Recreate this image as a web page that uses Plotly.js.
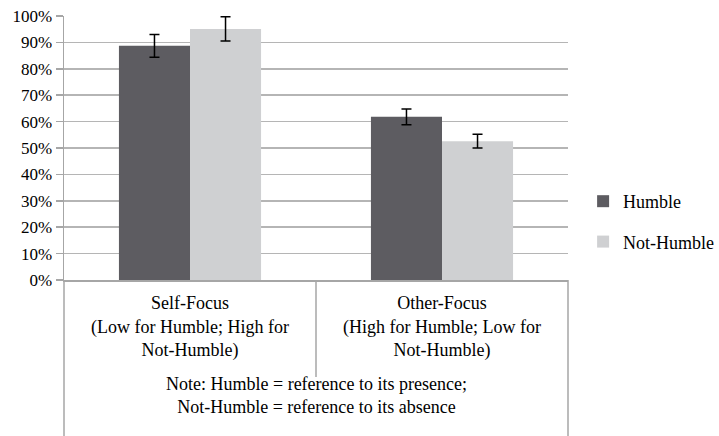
<!DOCTYPE html>
<html>
<head>
<meta charset="utf-8">
<script src="https://cdn.plot.ly/plotly-3.0.1.min.js"></script>
<style>html,body{margin:0;padding:0;background:#fff;}#chart{width:719px;height:436px;}</style>
</head>
<body>
<div id="chart"></div>
<script>
var categories = ["Self-Focus<br>(Low for Humble; High for<br>Not-Humble)", "Other-Focus<br>(High for Humble; Low for<br>Not-Humble)"];
var humbleValues = [88.7, 61.8];
var humbleErrors = [4.3, 3.0];
var notHumbleValues = [95.1, 52.6];
var notHumbleErrors = [4.6, 2.6];
var yTickValues = [0, 10, 20, 30, 40, 50, 60, 70, 80, 90, 100];
var yTickLabels = ["0%", "10%", "20%", "30%", "40%", "50%", "60%", "70%", "80%", "90%", "100%"];
var noteText = "Note: Humble = reference to its presence;<br>Not-Humble = reference to its absence";

var errStyle = {type: "data", visible: true, color: "#000", thickness: 1.5, width: 5};

var traces = [
  {type: "bar", name: "Humble", x: categories, y: humbleValues,
   error_y: Object.assign({array: humbleErrors}, errStyle),
   marker: {color: "#5d5c61"}, legendgroup: "a"},
  {type: "bar", name: "Not-Humble", x: categories, y: notHumbleValues,
   error_y: Object.assign({array: notHumbleErrors}, errStyle),
   marker: {color: "#cfd0d2"}, legendgroup: "b"}
];

var lineCol = "#a6a6a6";
var layout = {
  width: 719, height: 436,
  font: {family: "'Liberation Serif', serif", size: 18},
  margin: {l: 64, r: 151, t: 16, b: 156},
  barmode: "group", bargap: 0.436, bargroupgap: 0,
  showlegend: true,
  legend: {xref: "container", yref: "container", x: 0.811, y: 0.492, xanchor: "left", yanchor: "middle",
           font: {color: "#000"},
           traceorder: "grouped", tracegroupgap: 14, itemwidth: 30},
  xaxis: {type: "category", showline: true, linecolor: lineCol, linewidth: 1.5,
          ticks: "", showgrid: false, tickfont: {color: "#000"},
          ticklabelstandoff: 6, automargin: false, fixedrange: true},
  yaxis: {range: [0, 100], tickvals: yTickValues, ticktext: yTickLabels,
          showline: true, linecolor: lineCol, linewidth: 1.5,
          ticks: "outside", ticklen: 7, tickcolor: lineCol, tickwidth: 1.5,
          showgrid: true, gridcolor: "#b5b5b5", gridwidth: 1.5,
          zeroline: false, tickfont: {color: "#000", size: 17},
          automargin: false, fixedrange: true},
  shapes: [
    {type: "line", xref: "paper", yref: "paper", x0: 0, x1: 0, y0: 0, y1: -0.591, line: {color: lineCol, width: 1.5}},
    {type: "line", xref: "paper", yref: "paper", x0: 0.5, x1: 0.5, y0: 0, y1: -0.367, line: {color: lineCol, width: 1.5}},
    {type: "line", xref: "paper", yref: "paper", x0: 1, x1: 1, y0: 0, y1: -0.591, line: {color: lineCol, width: 1.5}}
  ],
  annotations: [
    {xref: "paper", yref: "paper", x: 0.5, y: -0.436, xanchor: "center", yanchor: "middle",
     text: noteText, showarrow: false, font: {color: "#000"}}
  ]
};

Plotly.newPlot("chart", traces, layout, {displayModeBar: false, staticPlot: true});
</script>
</body>
</html>
